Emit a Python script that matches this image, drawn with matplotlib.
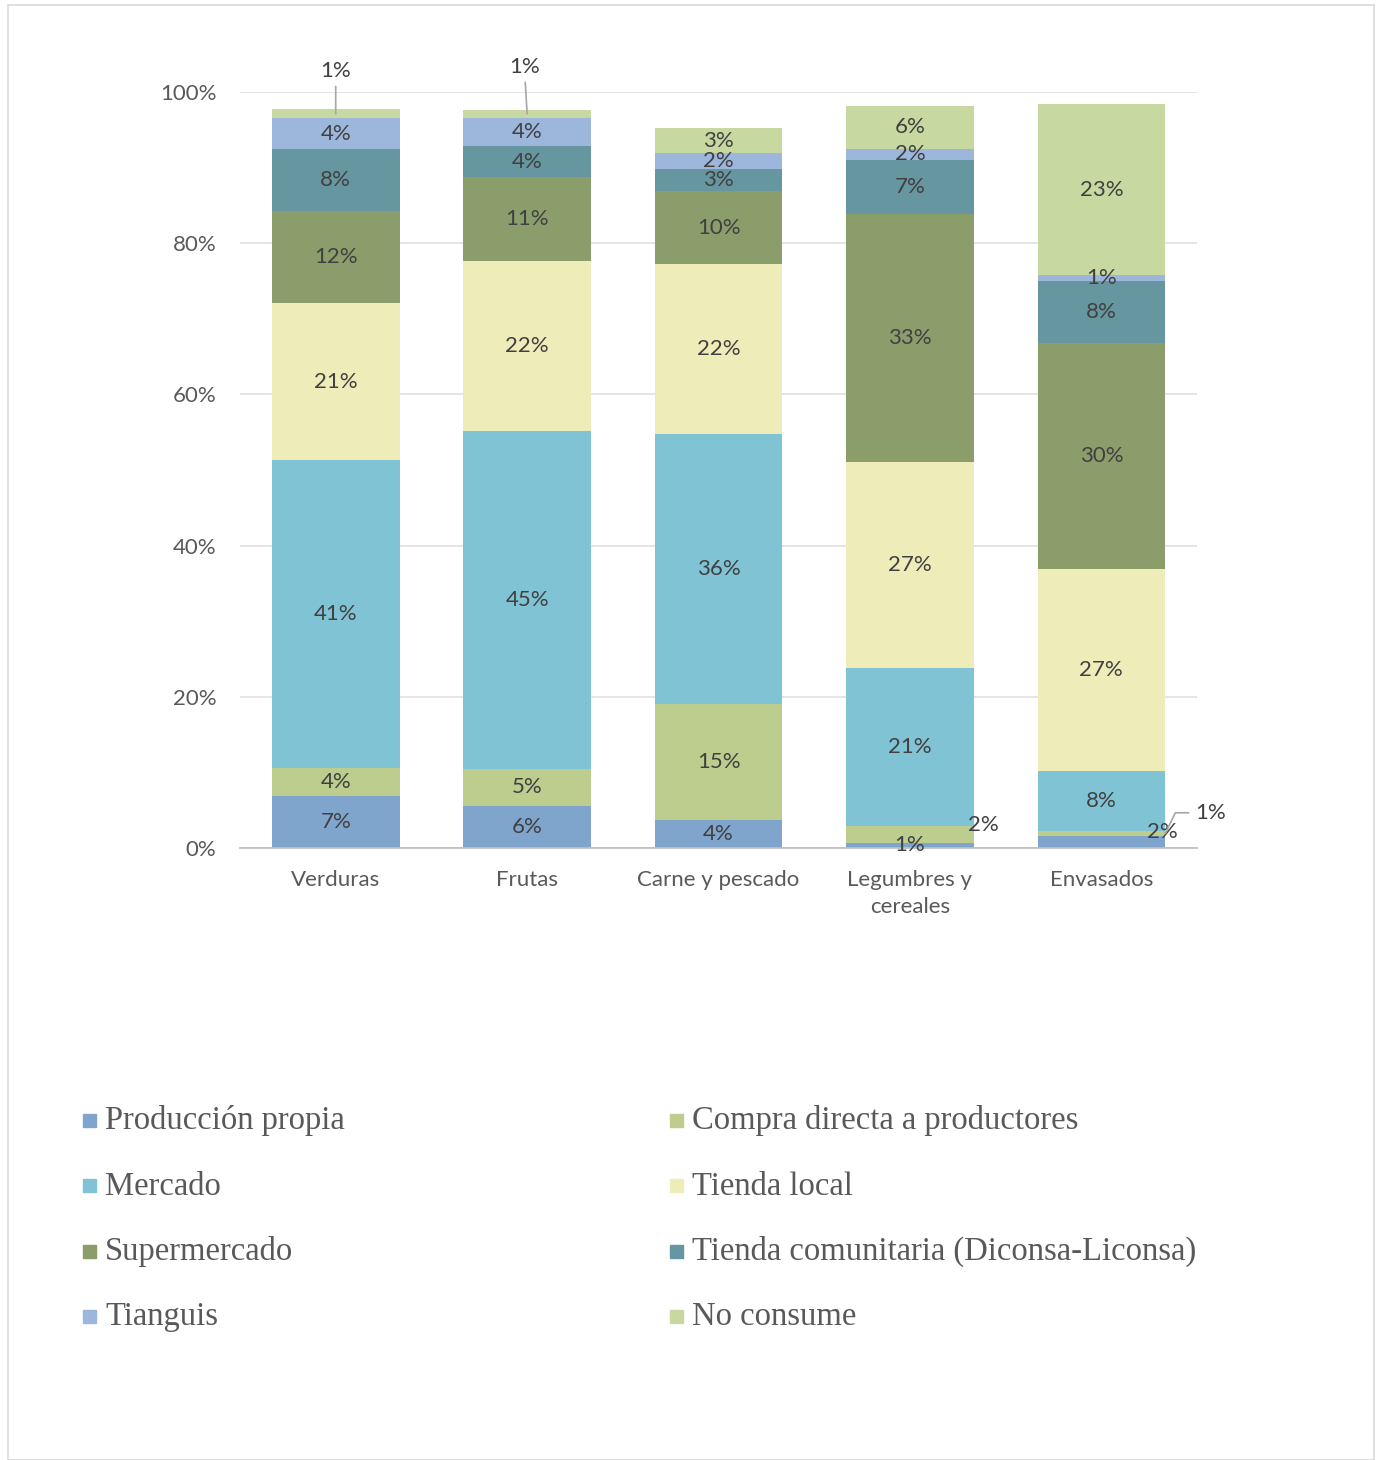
import numpy as np
import matplotlib
matplotlib.use('Agg')
import matplotlib.pyplot as plt
from matplotlib.patches import Rectangle

categories = ['Verduras', 'Frutas', 'Carne y pescado', 'Legumbres y\ncereales', 'Envasados']
series = ['Producción propia', 'Compra directa a productores', 'Mercado', 'Tienda local',
          'Supermercado', 'Tienda comunitaria (Diconsa-Liconsa)', 'Tianguis', 'No consume']

produccion = [6.9, 5.6, 3.7, 0.7, 1.6]
compra_directa = [3.7, 4.8, 15.4, 2.2, 0.6]
mercado = [40.7, 44.8, 35.7, 20.9, 8.0]
tienda_local = [20.8, 22.4, 22.4, 27.2, 26.7]
supermercado = [12.2, 11.1, 9.7, 32.9, 29.9]
tienda_comunitaria = [8.1, 4.2, 2.9, 7.1, 8.2]
tianguis = [4.1, 3.7, 2.1, 1.5, 0.8]
no_consume = [1.2, 1.0, 3.3, 5.7, 22.6]

values = [produccion, compra_directa, mercado, tienda_local,
          supermercado, tienda_comunitaria, tianguis, no_consume]
colors = ['#80a5cd', '#bccd8e', '#80c3d5', '#eeecb8',
          '#8c9d6c', '#6696a0', '#9db7dc', '#c7d9a1']

# labels that Excel moved off their segment: (series, category) -> (dx, dy) in points
moved = {(7, 0): (0, 31), (7, 1): (-2, 34), (1, 3): (53, 7),
         (0, 4): (44, 7), (1, 4): (33, 15)}
leaders = {(7, 0), (7, 1)}
bar_w = 0.667

plt.rcParams['font.family'] = ['Lato', 'DejaVu Sans']
fig = plt.figure(figsize=(13.81, 14.6), dpi=100)
ax = fig.add_axes([0.1738, 0.4192, 0.8668 - 0.1738, 0.9370 - 0.4192])

x = np.arange(len(categories))
bottom = np.zeros(len(categories))
for i, vals in enumerate(values):
    v = np.array(vals) / 100
    ax.bar(x, v, bar_w, bottom=bottom, color=colors[i], edgecolor='none')
    for j in range(len(categories)):
        cx, cy = x[j], bottom[j] + v[j] / 2
        txt = f'{vals[j]:.0f}%'
        kw = dict(ha='center', va='center', fontsize=16, color='#404040')
        if (i, j) == (1, 4):
            # elbow leader from the right edge of the bar
            ax.annotate(txt, (cx + bar_w / 2, cy), xytext=moved[(i, j)],
                        textcoords='offset points', annotation_clip=False,
                        arrowprops=dict(arrowstyle='-', color='#a6a6a6', lw=1.2,
                                        shrinkA=3, shrinkB=0,
                                        connectionstyle='angle,angleA=180,angleB=64,rad=0'),
                        **kw)
        elif (i, j) in moved:
            arrow = dict(arrowstyle='-', color='#a6a6a6', lw=1.2,
                         shrinkA=2, shrinkB=0) if (i, j) in leaders else None
            ax.annotate(txt, (cx, cy), xytext=moved[(i, j)], textcoords='offset points',
                        arrowprops=arrow, annotation_clip=False, **kw)
        else:
            ax.text(cx, cy, txt, **kw)
    bottom += v

ax.set_xlim(-0.5, 4.5)
ax.set_ylim(0, 1.0)
ticks = np.arange(0, 1.01, 0.2)
ax.set_yticks(ticks)
ax.set_yticklabels([f'{round(t * 100)}%' for t in ticks])
ax.set_xticks(x)
ax.set_xticklabels(categories, linespacing=1.45)
ax.tick_params(length=0, labelsize=16, labelcolor='#595959')
ax.tick_params(axis='x', pad=16)
ax.tick_params(axis='y', pad=17)
ax.yaxis.grid(True, color='#e3e3e3', lw=1.3)
ax.set_axisbelow(True)
for s in ['top', 'right', 'left']:
    ax.spines[s].set_visible(False)
ax.spines['bottom'].set_color('#bfbfbf')
ax.spines['bottom'].set_linewidth(1.3)

# legend, two columns filled row-wise
W, H = 1381, 1460
for k, name in enumerate(series):
    col, row = k % 2, k // 2
    lx = 83 if col == 0 else 670
    ly = 1120 + row * 65.3
    fig.patches.append(Rectangle((lx / W, 1 - (ly + 7) / H), 13 / W, 13 / H,
                                 transform=fig.transFigure, color=colors[k]))
    fig.text((lx + 22) / W, 1 - (ly + 1) / H, name, fontsize=23.5, color='#595959',
             family='Liberation Serif', va='center', ha='left')

fig.patches.append(Rectangle((8 / W, 0), 1366 / W, 1 - 5 / H, transform=fig.transFigure,
                             fill=False, edgecolor='#d9d9d9', lw=1.2))

fig.savefig('out.png', dpi=100)
